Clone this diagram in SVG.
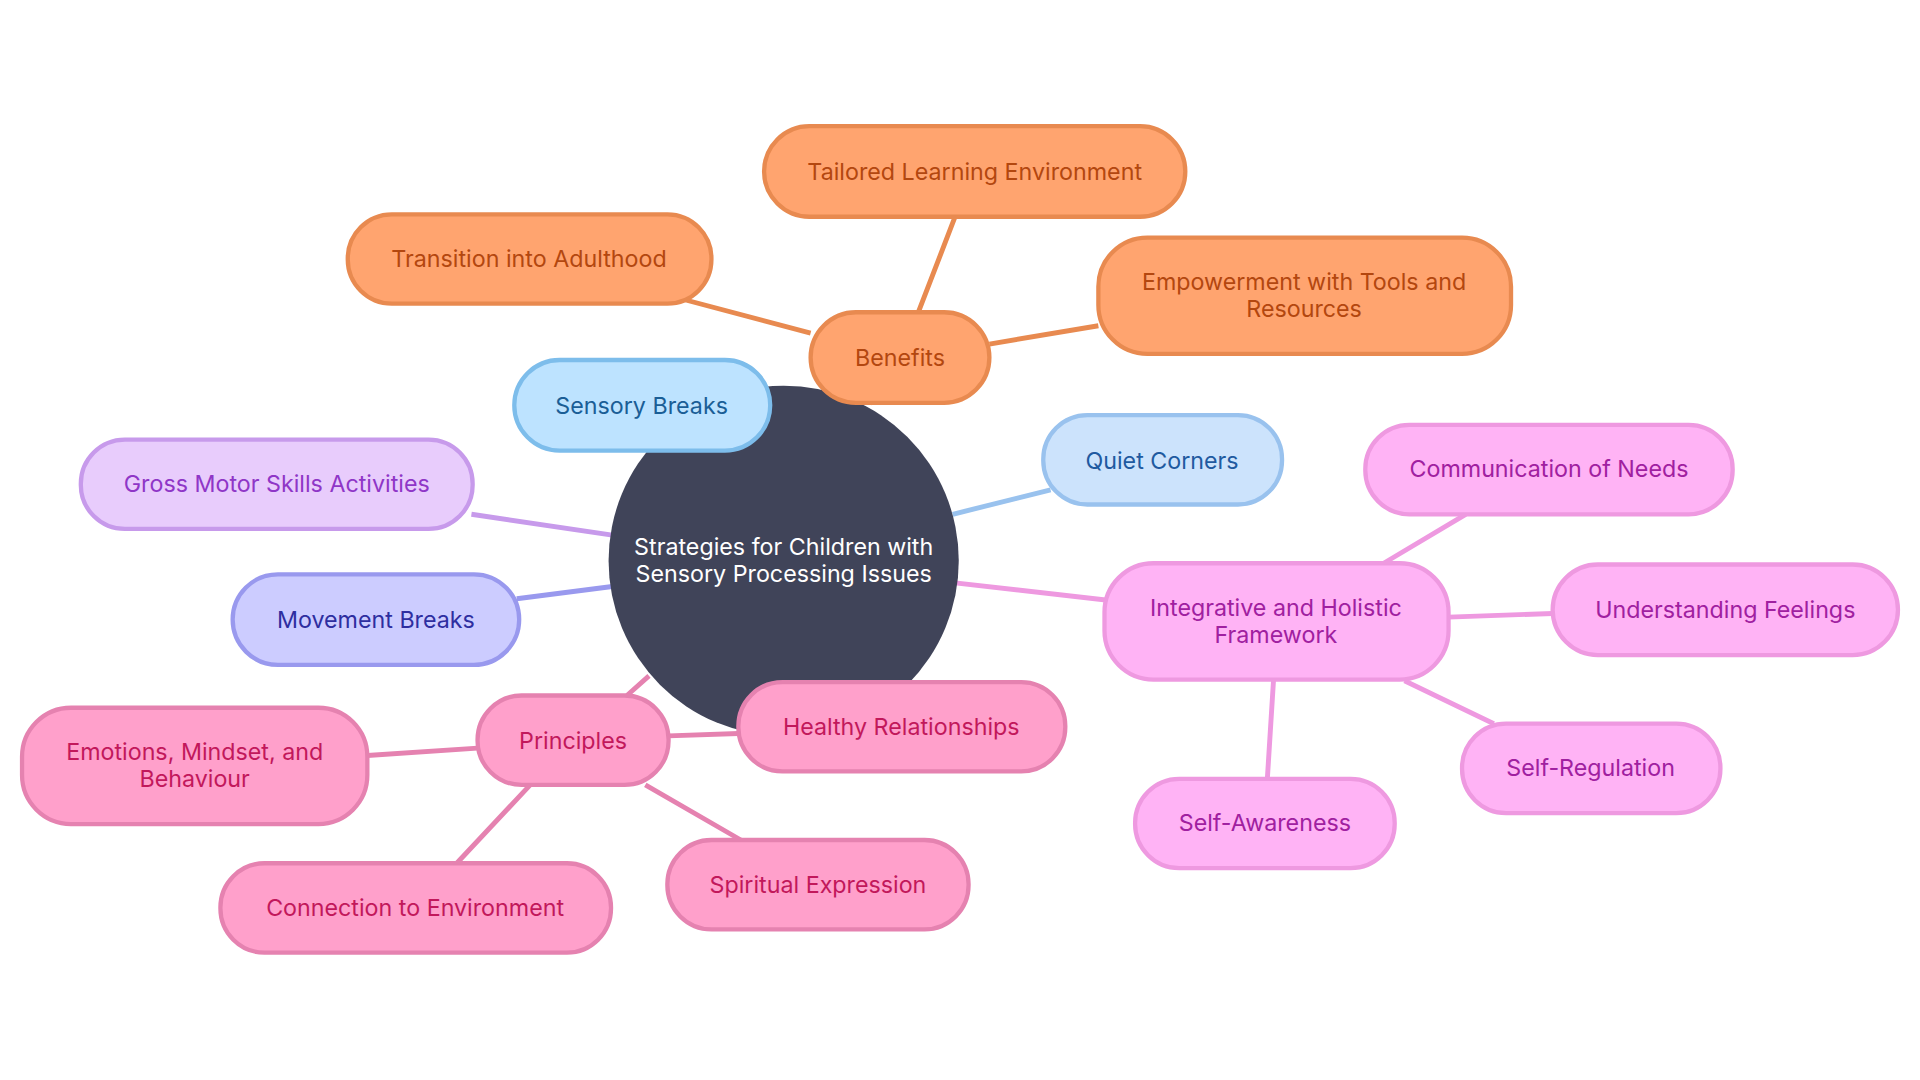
<svg xmlns="http://www.w3.org/2000/svg" width="1920" height="1080" viewBox="0 0 1920 1080">
<style>
text{font-family:Inter,"Noto Sans",sans-serif;font-size:19px;text-anchor:middle;dominant-baseline:central}
rect{stroke-width:3.5}
.e{fill:none;stroke-width:4}
.o rect{fill:#FFA46F;stroke:#E88A50}.o text{fill:#B3470F}
.p rect{fill:#FFA0CB;stroke:#E582B0}.p text{fill:#C2185B}
.m rect{fill:#FFB3F5;stroke:#EE99E0}.m text{fill:#A020A0}
</style>
<rect width="1920" height="1080" fill="#fff"/>
<g transform="scale(1.22449)">
<g id="connectors">
<path class="e" stroke="#E88A50" d="M710 330L725 300M750 255L780 177M662 272L560 245M808 281L897 266"/>
<path class="e" stroke="#99C2EE" d="M778 420L858 400"/>
<path class="e" stroke="#C79AEB" d="M385 420L500 437"/>
<path class="e" stroke="#9999EE" d="M422 489L500 479"/>
<path class="e" stroke="#EE99E0" d="M780 476L903 490M1130 460L1197 420M1183 504L1268 501M1147 556L1220 591M1040 556L1035 636"/>
<path class="e" stroke="#E582B0" d="M530 552L512 568M390 611L300 617M546 601L603 599M433 641L373 705M527 641L605 686"/>
</g>
<g id="center"><circle cx="640" cy="458" r="143" fill="#404459"/>
<text x="640" y="446" fill="#fff">Strategies for Children with</text><text x="640" y="468" fill="#fff">Sensory Processing Issues</text></g>
<g id="n-sensory"><rect x="420" y="294" width="209" height="74" rx="37" fill="#BDE3FF" stroke="#7DBDEB"/><text x="524" y="331" fill="#1A5E96">Sensory Breaks</text></g>
<g id="n-benefits" class="o"><rect x="662" y="255" width="146" height="74" rx="37"/><text x="735" y="292">Benefits</text></g>
<g id="n-tailored" class="o"><rect x="624" y="103" width="344" height="74" rx="37"/><text x="796" y="140">Tailored Learning Environment</text></g>
<g id="n-transition" class="o"><rect x="284" y="175" width="297" height="73" rx="36"/><text x="432" y="211">Transition into Adulthood</text></g>
<g id="n-empower" class="o"><rect x="897" y="194" width="337" height="95" rx="40"/><text x="1065" y="230">Empowerment with Tools and</text><text x="1065" y="252">Resources</text></g>
<g id="n-quiet"><rect x="852" y="339" width="195" height="73" rx="36" fill="#CCE3FC" stroke="#99C2EE"/><text x="949" y="376" fill="#1F5AA0">Quiet Corners</text></g>
<g id="n-gross"><rect x="66" y="359" width="320" height="73" rx="36" fill="#E8CCFC" stroke="#C79AEB"/><text x="226" y="395" fill="#8F36C7">Gross Motor Skills Activities</text></g>
<g id="n-movement"><rect x="190" y="469" width="234" height="74" rx="37" fill="#CCCCFF" stroke="#9999EE"/><text x="307" y="506" fill="#2E2EA0">Movement Breaks</text></g>
<g id="n-integrative" class="m"><rect x="902" y="460" width="281" height="95" rx="40"/><text x="1042" y="496">Integrative and Holistic</text><text x="1042" y="518">Framework</text></g>
<g id="n-comm" class="m"><rect x="1115" y="347" width="300" height="73" rx="36"/><text x="1265" y="383">Communication of Needs</text></g>
<g id="n-underst" class="m"><rect x="1268" y="461" width="282" height="74" rx="37"/><text x="1409" y="498">Understanding Feelings</text></g>
<g id="n-selfreg" class="m"><rect x="1194" y="591" width="211" height="73" rx="36"/><text x="1299" y="627">Self-Regulation</text></g>
<g id="n-selfaw" class="m"><rect x="927" y="636" width="212" height="73" rx="36"/><text x="1033" y="672">Self-Awareness</text></g>
<g id="n-principles" class="p"><rect x="390" y="568" width="156" height="73" rx="36"/><text x="468" y="605">Principles</text></g>
<g id="n-healthy" class="p"><rect x="603" y="557" width="267" height="73" rx="36"/><text x="736" y="593">Healthy Relationships</text></g>
<g id="n-emotions" class="p"><rect x="18" y="578" width="282" height="95" rx="40"/><text x="159" y="614">Emotions, Mindset, and</text><text x="159" y="636">Behaviour</text></g>
<g id="n-spiritual" class="p"><rect x="545" y="686" width="246" height="73" rx="36"/><text x="668" y="722">Spiritual Expression</text></g>
<g id="n-connection" class="p"><rect x="180" y="705" width="319" height="73" rx="36"/><text x="339" y="741">Connection to Environment</text></g>
</g>
</svg>
